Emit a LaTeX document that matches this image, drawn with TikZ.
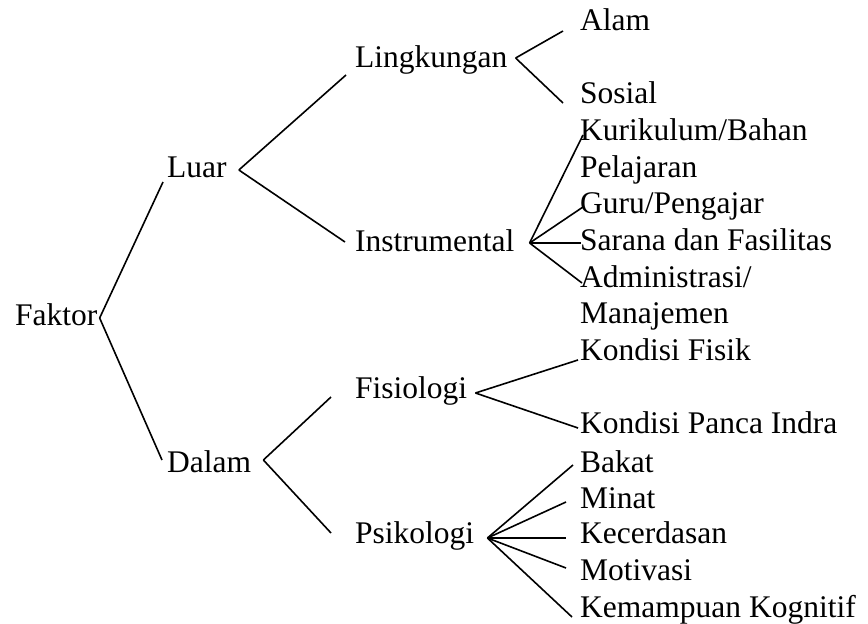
\documentclass[tikz,border=0pt]{standalone}
\usepackage{fontspec}
\setmainfont{Liberation Serif}
\begin{document}
\begin{tikzpicture}[x=1pt,y=-1pt,
	label/.style={anchor=base west,inner sep=0pt,font=\fontsize{31.5}{36.6}\selectfont},
	branch/.style={line width=1.6pt}]
	\useasboundingbox (0,0) rectangle (868,624);
	% levels 0 and 1
	\node[label] (faktor) at (15,325) {Faktor};
	\node[label] (luar) at (167,177) {Luar};
	\node[label] (dalam) at (167,472) {Dalam};
	% level 2
	\node[label] (lingkungan) at (355,67) {Lingkungan};
	\node[label] (instrumental) at (355,251) {Instrumental};
	\node[label] (fisiologi) at (355,398) {Fisiologi};
	\node[label] (psikologi) at (355,543) {Psikologi};
	% level 3
	\node[label] (alam) at (580,30) {Alam};
	\node[label] (sosial) at (580,103) {Sosial};
	\node[label] (kurikulum) at (580,140) {Kurikulum/Bahan};
	\node[label] (pelajaran) at (580,177) {Pelajaran};
	\node[label] (guru) at (580,213) {Guru/Pengajar};
	\node[label] (sarana) at (580,250) {Sarana dan Fasilitas};
	\node[label] (administrasi) at (580,287) {Administrasi/};
	\node[label] (manajemen) at (580,323) {Manajemen};
	\node[label] (fisik) at (580,360) {Kondisi Fisik};
	\node[label] (indra) at (580,433) {Kondisi Panca Indra};
	\node[label] (bakat) at (580,472) {Bakat};
	\node[label] (minat) at (580,508) {Minat};
	\node[label] (kecerdasan) at (580,543) {Kecerdasan};
	\node[label] (motivasi) at (580,580) {Motivasi};
	\node[label] (kognitif) at (580,617) {Kemampuan Kognitif};
	% branch points
	\coordinate (faktorV) at ([shift={(2,-7)}]faktor.base east);
	\coordinate (luarV) at ([shift={(12,-7)}]luar.base east);
	\coordinate (dalamV) at ([shift={(12,-12)}]dalam.base east);
	\coordinate (lingkunganV) at ([shift={(8,-9)}]lingkungan.base east);
	\coordinate (instrumentalV) at ([shift={(15,-8)}]instrumental.base east);
	\coordinate (fisiologiV) at ([shift={(8,-5)}]fisiologi.base east);
	\coordinate (psikologiV) at ([shift={(13,-5)}]psikologi.base east);
	% connectors
	\foreach \child/\dx/\dy in {luar/-4/5, dalam/-5/-12}
		\draw[branch] (faktorV) -- ([shift={(\dx,\dy)}]\child.base west);
	\foreach \child/\dx/\dy in {lingkungan/-9/8, instrumental/-10/-9}
		\draw[branch] (luarV) -- ([shift={(\dx,\dy)}]\child.base west);
	\foreach \child/\dx/\dy in {fisiologi/-24/-1, psikologi/-24/-10}
		\draw[branch] (dalamV) -- ([shift={(\dx,\dy)}]\child.base west);
	\foreach \child/\dx/\dy in {alam/-17/1, sosial/-17/0}
		\draw[branch] (lingkunganV) -- ([shift={(\dx,\dy)}]\child.base west);
	\foreach \child/\dx/\dy in {kurikulum/3/-5, guru/3/-6, sarana/1/-7, administrasi/2/-4}
		\draw[branch] (instrumentalV) -- ([shift={(\dx,\dy)}]\child.base west);
	\foreach \child/\dx/\dy in {fisik/-2/0, indra/-2/-5}
		\draw[branch] (fisiologiV) -- ([shift={(\dx,\dy)}]\child.base west);
	\foreach \child/\dx/\dy in {bakat/-7/-7, minat/-14/-6, kecerdasan/-14/-5, motivasi/-14/-12, kognitif/-8/0}
		\draw[branch] (psikologiV) -- ([shift={(\dx,\dy)}]\child.base west);
\end{tikzpicture}
\end{document}
